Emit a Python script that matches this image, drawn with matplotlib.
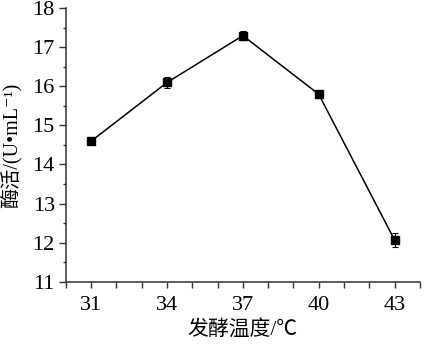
import matplotlib
matplotlib.use("Agg")
import matplotlib.pyplot as plt
from matplotlib.ticker import MultipleLocator, FixedLocator

plt.rcParams['font.family'] = ['Liberation Serif', 'Noto Sans CJK SC', 'DejaVu Sans']

# data
temps = [31, 34, 37, 40, 43]
activity = [14.6, 16.1, 17.3, 15.8, 12.07]
errors = [0.06, 0.15, 0.12, 0.09, 0.17]
xticks = [31, 34, 37, 40, 43]

fig = plt.figure(figsize=(4.31, 3.46), dpi=100)
ax = fig.add_axes([0.153, 0.186, 0.821, 0.790])

ax.errorbar(temps, activity, yerr=errors, color='black', lw=1.1,
            marker='s', markersize=5.5, capsize=2.5, elinewidth=0.8,
            capthick=0.8)

ax.set_xlim(30, 44)
ax.set_ylim(11, 18)
ax.xaxis.set_major_locator(FixedLocator(xticks))
ax.xaxis.set_minor_locator(MultipleLocator(1))
ax.yaxis.set_major_locator(MultipleLocator(1))
ax.yaxis.set_minor_locator(MultipleLocator(0.5))

for s in ['top', 'right']:
    ax.spines[s].set_visible(False)
for s in ['left', 'bottom']:
    ax.spines[s].set_linewidth(1.1)
    ax.spines[s].set_color('#333333')

ax.tick_params(which='both', direction='out', width=1.0,
               color='#333333', labelsize=16)
ax.tick_params(axis='x', which='both', length=4, pad=6)
ax.tick_params(axis='y', which='major', length=5, pad=3)
ax.tick_params(axis='y', which='minor', length=2.5)

ax.set_xlabel('发酵温度/℃', fontsize=15, labelpad=4)
ax.set_ylabel('酶活/(U•mL⁻¹)', fontsize=14.5, labelpad=8)

fig.savefig('out.png', dpi=100)
